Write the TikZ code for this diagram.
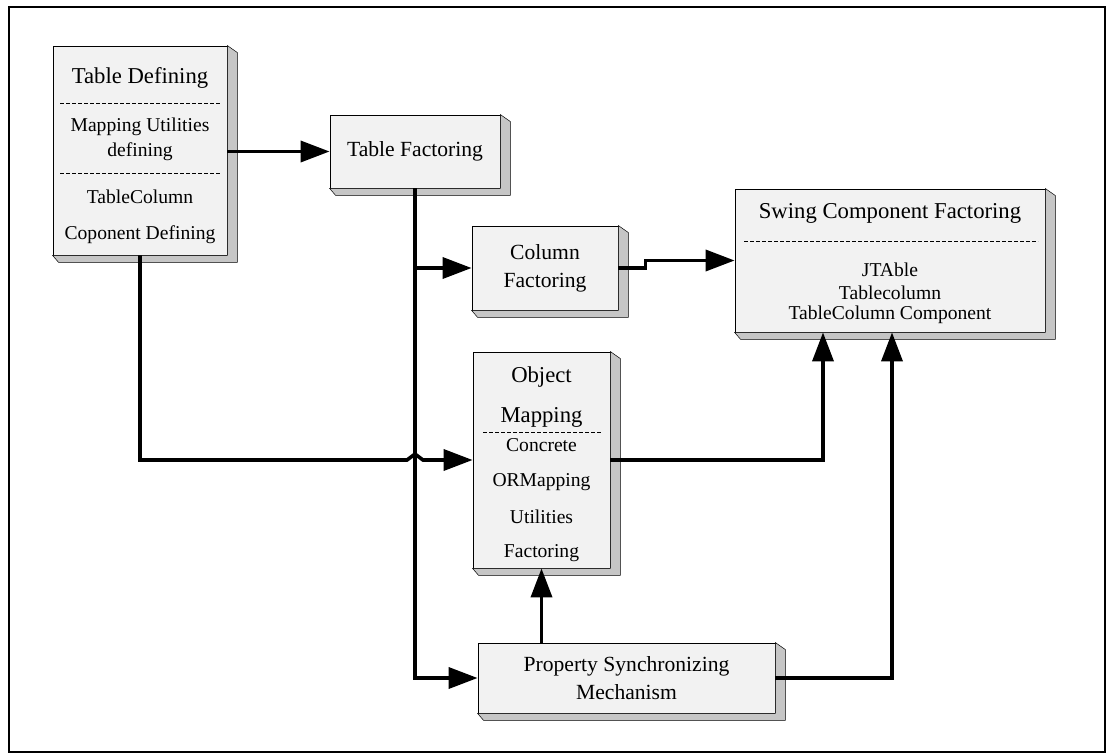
\documentclass[tikz,border=0pt]{standalone}
\usepackage{fontspec}
\setmainfont{Liberation Serif}
\usetikzlibrary{arrows.meta,calc}

\tikzset{
  block/.style={draw=black, line width=0.8pt, fill=gray!10, inner sep=0pt},
  boxshade/.style={fill=gray!45, draw=black, line width=0.5pt},
  flow/.style={line width=3.6pt, -{Triangle[length=29pt,width=21pt]}},
  headtxt/.style={font=\fontsize{22.7}{27}\selectfont, inner sep=0pt},
  boxtxt/.style={font=\fontsize{21.6}{28}\selectfont, align=center},
  itemtxt/.style={font=\fontsize{19.6}{23}\selectfont, inner sep=0pt},
  sep/.style={dashed, line width=1pt, dash pattern=on 4pt off 2pt},
}

\begin{document}
\begin{tikzpicture}[x=1pt, y=-1pt]
  \useasboundingbox (0,0) rectangle (1108,755);
  \draw[line width=1.6pt] (9,7) rectangle (1105,752);

  % boxes
  \node[block, minimum width=174pt, minimum height=209pt] (tdef) at (140,150.5) {};
  \node[block, boxtxt, minimum width=170pt, minimum height=73pt] (tfac) at (415,151.5) {Table Factoring};
  \node[block, boxtxt, minimum width=146pt, minimum height=84pt] (cfac) at (545,268) {Column\\Factoring};
  \node[block, minimum width=310pt, minimum height=143pt] (swing) at (890,260.5) {};
  \node[block, minimum width=137pt, minimum height=216pt] (objm) at (541.5,460) {};
  \node[block, boxtxt, minimum width=297pt, minimum height=70pt] (prop) at (626.5,678) {Property Synchronizing\\Mechanism};

  % 3d sides
  \foreach \b in {tdef,tfac,cfac,swing,objm,prop}
    \filldraw[boxshade] (\b.north east) -- ++(10,7) -- ($(\b.south east)+(10,7)$)
      -- ($(\b.south west)+(6,7)$) -- (\b.south west) -- (\b.south east) -- cycle;

  % Table Defining
  \node[headtxt] (tdefa) at (140,78) {Table Defining};
  \draw[sep] (60,103) -- (221,103);
  \node[itemtxt] (tdefb) at (140,127) {Mapping Utilities};
  \node[itemtxt] (tdefc) at (140,152) {defining};
  \draw[sep] (60,173) -- (221,173);
  \node[itemtxt] (tdefd) at (140,197) {TableColumn};
  \node[itemtxt] (tdefe) at (140,235) {Coponent Defining};

  % Swing Component Factoring
  \node[headtxt] (swinga) at (890,213) {Swing Component Factoring};
  \draw[sep] (744,241) -- (1038,241);
  \node[itemtxt] (swingb) at (890,270) {JTAble};
  \node[itemtxt] (swingc) at (890,293) {Tablecolumn};
  \node[itemtxt] (swingd) at (890,315) {TableColumn Component};

  % Object Mapping
  \node[headtxt] (objma) at (541.5,377) {Object};
  \node[headtxt] (objmb) at (541.5,417) {Mapping};
  \draw[sep] (483,432) -- (601,432);
  \node[itemtxt] (objmc) at (541.5,445) {Concrete};
  \node[itemtxt] (objmd) at (541.5,482) {ORMapping};
  \node[itemtxt] (objme) at (541.5,517) {Utilities};
  \node[itemtxt] (objmf) at (541.5,553) {Factoring};

  % connectors
  \draw[flow] (tdef.east |- tfac.west) -- (tfac.west);
  \draw[flow] (tfac.south) |- (prop.west);
  \draw[flow] (tfac.south |- cfac.west) -- (cfac.west);
  \draw[flow] (cfac.east) -- ++(27,0) |- (swing.west);
  \coordinate (hop) at (tfac.south |- objm.west);
  \draw[flow] (tdef.south) |- ($(hop)+(-8,0)$) -- ++(8,-6) -- ++(8,6) -- (objm.west);
  \draw[flow] (objm.east) -| ($(swing.south)+(-67,0)$);
  \draw[flow] (prop.east) -| ($(swing.south)+(2,0)$);
  \draw[flow] (objm.south |- prop.north) -- (objm.south);
\end{tikzpicture}
\end{document}
